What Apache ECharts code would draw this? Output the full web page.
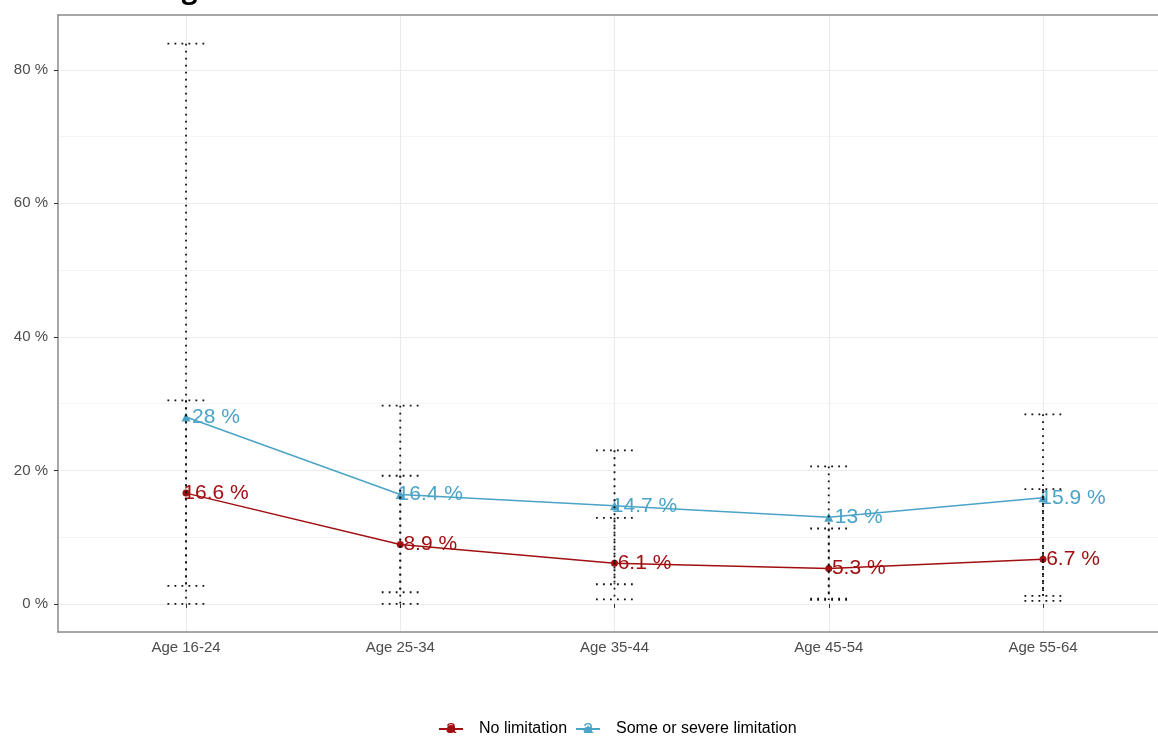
<!DOCTYPE html>
<html>
<head>
<meta charset="utf-8">
<script src="https://cdn.jsdelivr.net/npm/echarts@6/dist/echarts.min.js"></script>
<style>html,body{margin:0;padding:0;background:#fff;}#c{width:1158px;height:736px;}</style>
</head>
<body>
<div id="c"></div>
<script>
var categories = ['Age 16-24', 'Age 25-34', 'Age 35-44', 'Age 45-54', 'Age 55-64'];
var noLimitation = [16.6, 8.9, 6.1, 5.3, 6.7];
var someLimitation = [28, 16.4, 14.7, 13, 15.9];
var noLimitationLow = [2.7, 0, 0.7, 0.6, 0.45];
var noLimitationHigh = [30.5, 19.2, 12.9, 11.3, 17.2];
var someLimitationLow = [0, 1.75, 2.95, 0.8, 1.2];
var someLimitationHigh = [83.9, 29.7, 23.0, 20.6, 28.4];
var majorTicks = [0, 20, 40, 60, 80];
var minorTicks = [10, 30, 50, 70];

var RED = '#A10F12';
var BLUE = '#4BA3C7';
var FONT = '"Liberation Sans", Arial, sans-serif';
var BORDER = '#8a8a8a';

function errData(lo, hi) {
  return categories.map(function (c, i) { return [i, lo[i], hi[i]]; });
}
function errRender(params, api) {
  var x = api.value(0), lo = api.value(1), hi = api.value(2);
  var pLo = api.coord([x, lo]), pHi = api.coord([x, hi]);
  var half = api.size([1, 0])[0] * 0.0865;
  var st = { stroke: '#111', lineWidth: 1.8, lineDash: [1.8, 5.2], fill: null };
  return {
    type: 'group',
    children: [
      { type: 'line', shape: { x1: pLo[0], y1: pHi[1], x2: pLo[0], y2: pLo[1] }, style: st },
      { type: 'line', shape: { x1: pLo[0] - half, y1: pHi[1], x2: pLo[0] + half, y2: pHi[1] }, style: st },
      { type: 'line', shape: { x1: pLo[0] - half, y1: pLo[1], x2: pLo[0] + half, y2: pLo[1] }, style: st }
    ]
  };
}
function labelFmt(p) { return p.value + ' %'; }

var yMin = -4.2, yMax = 88.2;
var chart = echarts.init(document.getElementById('c'), null, { renderer: 'canvas' });
chart.setOption({
  animation: false,
  backgroundColor: '#ffffff',
  textStyle: { fontFamily: FONT },
  graphic: [
    { type: 'text', left: 127, top: -24, z: 10,
      style: { text: 'of Age', font: 'bold 28px "Open Sans", sans-serif', fill: '#000' } },
    { type: 'text', x: 451, y: 728, z: 10, silent: true,
      style: { text: 'a', font: '19px ' + FONT, fill: RED, align: 'center', verticalAlign: 'middle' } },
    { type: 'text', x: 588, y: 728, z: 10, silent: true,
      style: { text: 'a', font: '19px ' + FONT, fill: BLUE, align: 'center', verticalAlign: 'middle' } }
  ],
  grid: [
    { left: 186, right: 115, top: 15, bottom: 104 },
    { left: 58, right: 0, top: 15, bottom: 104 }
  ],
  legend: {
    data: ['No limitation', 'Some or severe limitation'],
    left: 433, top: 716, itemWidth: 24, itemHeight: 10, itemGap: 8,
    textStyle: { fontSize: 16, color: '#000', fontFamily: FONT, padding: [0, 0, 0, 11] }
  },
  xAxis: [
    {
      gridIndex: 0, type: 'category', data: categories, boundaryGap: false,
      axisLine: { show: false },
      axisTick: { show: true, length: 4, lineStyle: { color: '#333' } },
      axisLabel: { color: '#4D4D4D', fontSize: 15, margin: 8, fontFamily: FONT },
      splitLine: { show: true, lineStyle: { color: '#EBEBEB', width: 1.1 } }
    },
    {
      gridIndex: 1, type: 'value', min: 0, max: 1, position: 'bottom',
      axisLine: { show: true, onZero: false, lineStyle: { color: BORDER, width: 1.5 } },
      axisTick: { show: false }, axisLabel: { show: false }, splitLine: { show: false }
    },
    {
      gridIndex: 1, type: 'value', min: 0, max: 1, position: 'top',
      axisLine: { show: true, onZero: false, lineStyle: { color: BORDER, width: 1.5 } },
      axisTick: { show: false }, axisLabel: { show: false }, splitLine: { show: false }
    }
  ],
  yAxis: [
    {
      gridIndex: 1, type: 'value', min: yMin, max: yMax,
      axisLine: { show: true, onZero: false, lineStyle: { color: BORDER, width: 1.5 } },
      axisTick: { show: true, length: 4, customValues: majorTicks, lineStyle: { color: '#333' } },
      axisLabel: { customValues: majorTicks, formatter: function (v) { return v + ' %'; }, color: '#4D4D4D', fontSize: 15, margin: 10, fontFamily: FONT },
      splitLine: { show: true, lineStyle: { color: '#EBEBEB', width: 1.1 } }
    },
    {
      gridIndex: 1, type: 'value', min: yMin, max: yMax,
      axisLine: { show: false },
      axisTick: { show: false, customValues: minorTicks },
      axisLabel: { show: false },
      splitLine: { show: true, lineStyle: { color: '#F3F3F3', width: 0.8 } }
    },
    { gridIndex: 0, type: 'value', min: yMin, max: yMax, show: false, splitLine: { show: false } }
  ],
  series: [
    {
      name: 'No limitation', type: 'line', xAxisIndex: 0, yAxisIndex: 2, data: noLimitation,
      symbol: 'circle', symbolSize: 7, z: 3,
      lineStyle: { color: RED, width: 1.5 }, itemStyle: { color: RED },
      label: { show: true, position: 'inside', offset: [30, 0], align: 'center', verticalAlign: 'middle', formatter: labelFmt, color: RED, fontSize: 21, fontFamily: FONT }
    },
    {
      name: 'Some or severe limitation', type: 'line', xAxisIndex: 0, yAxisIndex: 2, data: someLimitation,
      symbol: 'triangle', symbolSize: 9, z: 3,
      lineStyle: { color: BLUE, width: 1.5 }, itemStyle: { color: BLUE },
      label: { show: true, position: 'inside', offset: [30, 0], align: 'center', verticalAlign: 'middle', formatter: labelFmt, color: BLUE, fontSize: 21, fontFamily: FONT }
    },
    {
      name: 'errNo', type: 'custom', xAxisIndex: 0, yAxisIndex: 2, z: 4,
      data: errData(noLimitationLow, noLimitationHigh), encode: { x: 0, y: [1, 2] },
      renderItem: errRender, silent: true
    },
    {
      name: 'errSome', type: 'custom', xAxisIndex: 0, yAxisIndex: 2, z: 4,
      data: errData(someLimitationLow, someLimitationHigh), encode: { x: 0, y: [1, 2] },
      renderItem: errRender, silent: true
    }
  ]
});
</script>
</body>
</html>
